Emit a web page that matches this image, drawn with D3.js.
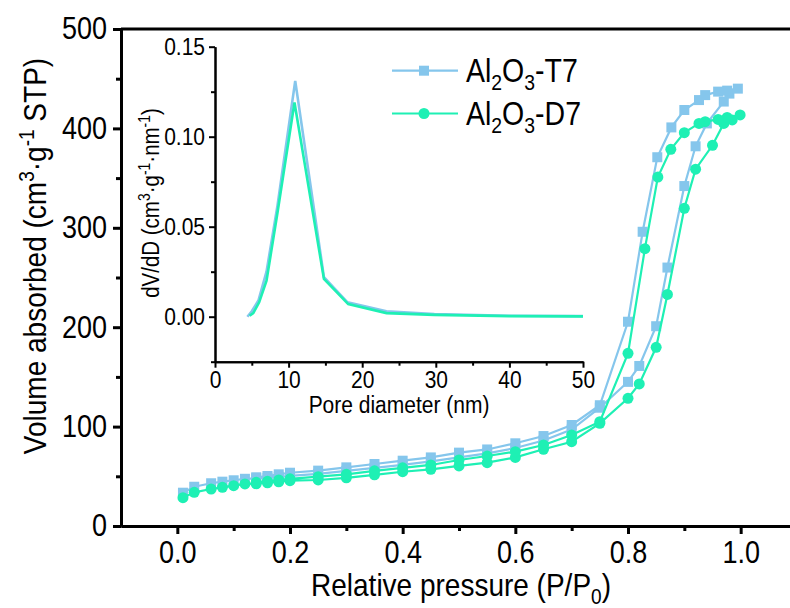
<!DOCTYPE html>
<meta charset="utf-8" />
<title>N2 isotherms Al2O3</title>
<style>
  body { margin: 0; background: #fff; }
  svg { font-family: "Liberation Sans", Arial, sans-serif; }
  .axis path, .axis line { stroke: #000; }
  .axis text { fill: #000; }
</style>
<svg width="790" height="608"></svg>
<script src="https://d3js.org/d3.v7.min.js"></script>
<script>
// isotherms: relative pressure and adsorbed volume, adsorption then desorption branch
const pAdsT7 = [0.01,0.03,0.06,0.08,0.10,0.12,0.14,0.16,0.18,0.20,0.25,0.30,0.35,0.40,0.45,0.50,0.55,0.60,0.65,0.70,0.75,0.80,0.82,0.85,0.87,0.90,0.92,0.94,0.97,0.98,0.995];
const vAdsT7 = [33.5,39.5,43,44.6,46,47.5,48,48.5,49.5,50.5,52.5,55.5,58.5,61.5,65,69,73,78.5,86,97,119,145,161,201,260,342,382,405,427,435,440];
const pDesT7 = [0.995,0.976,0.96,0.937,0.926,0.90,0.877,0.852,0.826,0.80,0.75,0.70,0.65,0.60,0.55,0.50,0.45,0.40,0.35,0.30,0.25,0.20,0.18,0.16,0.14];
const vDesT7 = [440,438,437,433.5,428.5,418.5,401,371,296,205.5,121.5,101.6,90.5,83.2,77,73.8,69,65.7,62.4,59,55.7,53.6,52,50.3,49];

const pAdsD7 = [0.01,0.03,0.06,0.08,0.10,0.12,0.14,0.16,0.18,0.20,0.25,0.30,0.35,0.40,0.45,0.50,0.55,0.60,0.65,0.70,0.75,0.80,0.82,0.85,0.87,0.90,0.92,0.95,0.97,0.985,0.999];
const vAdsD7 = [28.5,33.9,37.2,38.9,40.6,42.3,42.5,43.5,44.5,45.6,46.3,48.5,51.5,54.6,57,60.4,63.7,69,77.2,84.8,103.3,128.5,142.9,179.8,233,319.6,359,383,405,408.5,413.5];
const pDesD7 = [0.999,0.976,0.96,0.937,0.926,0.90,0.876,0.853,0.83,0.80,0.75,0.70,0.65,0.60,0.55,0.50,0.45,0.40,0.35,0.30,0.25,0.20,0.18,0.16,0.14];
const vDesD7 = [413.5,411,409,406.8,405,395.7,379,351,279,173.7,105,91.5,81.5,74.8,70.4,66.4,61.4,58.5,55.5,52,49.6,47.5,46.3,45,44];

// pore size distribution (inset)
const dT7 = [4.4,5.0,5.9,7.0,8.5,10.9,14.8,18.0,23.3,29.8,40,50];
const psdT7 = [0,0.003,0.009,0.025,0.062,0.131,0.022,0.008,0.003,0.0015,0.0005,0.0003];
const dD7 = [4.7,5.2,6.0,7.0,8.5,10.8,14.8,18.1,23.3,29.8,40,50];
const psdD7 = [0.0005,0.002,0.008,0.020,0.058,0.119,0.021,0.007,0.002,0.001,0.0003,0.0002];

const xMajor = [0,0.2,0.4,0.6,0.8,1.0];
const xMinor = [0.1,0.3,0.5,0.7,0.9];
const yMajor = [0,100,200,300,400,500];
const yMinor = [50,150,250,350,450];
const ixMajor = [0,10,20,30,40,50];
const ixMinor = [5,15,25,35,45];
const iyMajor = [0,0.05,0.10,0.15];
const iyMinor = [-0.025,0.025,0.075,0.125];

const colT7 = "#85c6ec", colD7 = "#1ef0b4";
const SY = 1.14; // glyphs in the original are a bit taller than wide

const svg = d3.select("svg");

const x = d3.scaleLinear().domain([-0.1, 1.1]).range([121, 797]);
const y = d3.scaleLinear().domain([0, 500]).range([526, 29]);

// rich text helper: parts = [[text, "sub"|"sup"|null], ...]
function rich(sel, parts, fs) {
  parts.forEach(([t, k]) => {
    const ts = sel.append("tspan").text(t);
    ts.attr("font-size", k ? fs * 0.68 : fs).attr("data-k", k || "");
  });
  const nodes = sel.selectAll("tspan").nodes();
  for (let i = 0; i < nodes.length; i++) {
    const prev = i > 0 ? nodes[i - 1].getAttribute("data-k") : "";
    const cur = nodes[i].getAttribute("data-k");
    let dy = 0;
    if (prev === "sub") dy -= fs * 0.25;
    if (prev === "sup") dy += fs * 0.38;
    if (cur === "sub") dy += fs * 0.25;
    if (cur === "sup") dy -= fs * 0.38;
    nodes[i].setAttribute("dy", dy);
  }
  return sel;
}

const axStyle = (g, w) => {
  g.select(".domain").attr("stroke-width", w);
  g.selectAll(".tick line").attr("stroke-width", w);
};
// stretch tick labels vertically while keeping their anchor
const stretchBottom = (g, fs, off) => g.selectAll("text")
  .attr("font-size", fs).attr("font-family", "inherit")
  .attr("y", off / SY - 0.71 * fs).attr("dy", "0.71em")
  .attr("transform", `scale(1,${SY})`);
const stretchLeft = (g, fs) => g.selectAll("text")
  .attr("font-size", fs).attr("font-family", "inherit")
  .attr("transform", `scale(1,${SY})`);

// main frame top line
svg.append("line").attr("x1", 121).attr("x2", 797).attr("y1", y(500)).attr("y2", y(500))
  .attr("stroke", "#000").attr("stroke-width", 3);

svg.append("g").attr("class", "axis").attr("transform", `translate(0,${y(0)})`)
  .call(d3.axisBottom(x).tickValues(xMinor).tickSize(5).tickSizeOuter(0).tickFormat(""))
  .call(g => axStyle(g, 3));
svg.append("g").attr("class", "axis").attr("transform", `translate(0,${y(0)})`)
  .call(d3.axisBottom(x).tickValues(xMajor).tickSize(8).tickSizeOuter(0).tickFormat(d3.format(".1f")))
  .call(g => axStyle(g, 3))
  .call(g => stretchBottom(g, 27, 37));

svg.append("g").attr("class", "axis").attr("transform", `translate(${x(-0.1)},0)`)
  .call(d3.axisLeft(y).tickValues(yMinor).tickSize(5).tickSizeOuter(0).tickFormat(""))
  .call(g => axStyle(g, 3));
svg.append("g").attr("class", "axis").attr("transform", `translate(${x(-0.1)},0)`)
  .call(d3.axisLeft(y).tickValues(yMajor).tickSize(8).tickSizeOuter(0).tickPadding(6))
  .call(g => axStyle(g, 3))
  .call(g => stretchLeft(g, 27));

// axis titles
rich(svg.append("text").attr("transform", `translate(461,596) scale(1,${SY})`).attr("text-anchor", "middle"),
  [["Relative pressure (P/P"], ["0", "sub"], [")"]], 28);
rich(svg.append("text").attr("transform", `translate(46,256) rotate(-90) scale(1,${SY})`).attr("text-anchor", "middle"),
  [["Volume absorbed (cm"], ["3", "sup"], ["·g"], ["-1", "sup"], [" STP)"]], 28);

// isotherm curves
function series(pa, va, pd, vd) {
  const a = pa.map((p, i) => ({ p, v: va[i] }));
  const d = pd.map((p, i) => ({ p, v: vd[i] }));
  return a.concat(d.slice(1));
}
const line = d3.line().x(d => x(d.p)).y(d => y(d.v));

function drawIso(data, col, shape) {
  const g = svg.append("g");
  g.append("path").datum(data).attr("d", line).attr("fill", "none")
    .attr("stroke", col).attr("stroke-width", 2.2);
  g.selectAll("path.m").data(data).enter().append("path").attr("class", "m")
    .attr("transform", d => `translate(${x(d.p)},${y(d.v)})`)
    .attr("d", d3.symbol().type(shape).size(shape === d3.symbolSquare ? 100 : 95))
    .attr("fill", col);
}
drawIso(series(pAdsT7, vAdsT7, pDesT7, vDesT7), colT7, d3.symbolSquare);
drawIso(series(pAdsD7, vAdsD7, pDesD7, vDesD7), colD7, d3.symbolCircle);

// legend
const legend = [["T7", colT7, d3.symbolSquare], ["D7", colD7, d3.symbolCircle]];
legend.forEach(([name, col, shape], i) => {
  const ly = 70.7 + i * 42.8;
  svg.append("line").attr("x1", 392).attr("x2", 458).attr("y1", ly).attr("y2", ly)
    .attr("stroke", col).attr("stroke-width", 2.2);
  svg.append("path").attr("transform", `translate(424,${ly})`)
    .attr("d", d3.symbol().type(shape).size(shape === d3.symbolSquare ? 100 : 95)).attr("fill", col);
  rich(svg.append("text").attr("transform", `translate(466,${ly + 11}) scale(1,${SY})`),
    [["Al"], ["2", "sub"], ["O"], ["3", "sub"], ["-" + name]], 28.5);
});

// inset
const xi = d3.scaleLinear().domain([0, 50]).range([215, 583]);
const yi = d3.scaleLinear().domain([-0.025, 0.15]).range([361.7, 46.7]);

svg.append("g").attr("class", "axis").attr("transform", `translate(0,${yi(-0.025)})`)
  .call(d3.axisBottom(xi).tickValues(ixMinor).tickSize(4).tickSizeOuter(0).tickFormat(""))
  .call(g => axStyle(g, 2));
svg.append("g").attr("class", "axis").attr("transform", `translate(0,${yi(-0.025)})`)
  .call(d3.axisBottom(xi).tickValues(ixMajor).tickSize(6).tickSizeOuter(0))
  .call(g => axStyle(g, 2))
  .call(g => stretchBottom(g, 21, 26));
svg.append("g").attr("class", "axis").attr("transform", `translate(${xi(0)},0)`)
  .call(d3.axisLeft(yi).tickValues(iyMinor).tickSize(4).tickSizeOuter(0).tickFormat(""))
  .call(g => axStyle(g, 2));
svg.append("g").attr("class", "axis").attr("transform", `translate(${xi(0)},0)`)
  .call(d3.axisLeft(yi).tickValues(iyMajor).tickSize(6).tickSizeOuter(0).tickPadding(4).tickFormat(d3.format(".2f")))
  .call(g => axStyle(g, 2))
  .call(g => stretchLeft(g, 21));

rich(svg.append("text").attr("transform", `translate(399,413) scale(1,${SY})`).attr("text-anchor", "middle"),
  [["Pore diameter (nm)"]], 21);
rich(svg.append("text").attr("transform", `translate(159,203) rotate(-90) scale(1,${SY})`).attr("text-anchor", "middle"),
  [["dV/dD (cm"], ["3", "sup"], ["·g"], ["-1", "sup"], ["·nm"], ["-1", "sup"], [")"]], 20.5);

const iline = d3.line().x(d => xi(d.d)).y(d => yi(d.v));
[[dT7, psdT7, colT7], [dD7, psdD7, colD7]].forEach(([ds, vs, col]) => {
  svg.append("path").datum(ds.map((d, i) => ({ d, v: vs[i] })))
    .attr("d", iline).attr("fill", "none").attr("stroke", col).attr("stroke-width", 2.6);
});
</script>
